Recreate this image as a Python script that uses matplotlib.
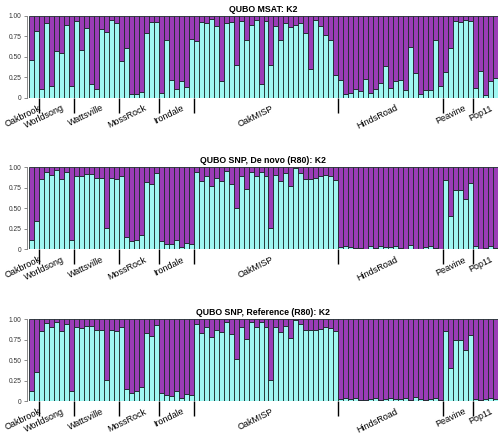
import numpy as np
from matplotlib import pyplot as plt

plt.rcParams['font.family'] = ['Liberation Sans', 'DejaVu Sans']

# populations and number of individuals
pops = ["Oakbrook", "Worldsong", "Wattsville", "MossRock", "Irondale",
        "OakMISP", "HindsRoad", "Peavine", "Pop11"]
pop_sizes = [2, 7, 9, 8, 7, 29, 21, 6, 5]

# cluster 1 membership (cyan), cluster 2 = 1 - q
msat_q = [0.46, 0.81,
          0.11, 0.91, 0.14, 0.57, 0.54, 0.89, 0.14,
          0.93, 0.58, 0.85, 0.17, 0.11, 0.84, 0.80, 0.95, 0.91,
          0.45, 0.61, 0.05, 0.05, 0.07, 0.79, 0.92, 0.92,
          0.06, 0.70, 0.21, 0.10, 0.20, 0.13, 0.72,
          0.69, 0.92, 0.91, 0.96, 0.87, 0.20, 0.91, 0.92, 0.40, 0.93,
          0.70, 0.89, 0.95, 0.17, 0.93, 0.40, 0.88, 0.70, 0.91, 0.86,
          0.89, 0.91, 0.79, 0.35, 0.95, 0.88, 0.77, 0.70, 0.28,
          0.21, 0.04, 0.06, 0.10, 0.08, 0.23, 0.06, 0.10, 0.18, 0.39,
          0.12, 0.20, 0.22, 0.09, 0.62, 0.30, 0.04, 0.09, 0.09, 0.70, 0.14,
          0.31, 0.60, 0.93, 0.92, 0.95, 0.94,
          0.12, 0.33, 0.03, 0.20, 0.24]

denovo_q = [0.12, 0.35,
            0.86, 0.95, 0.91, 0.97, 0.86, 0.94, 0.12,
            0.90, 0.89, 0.92, 0.92, 0.87, 0.87, 0.26, 0.87, 0.86,
            0.90, 0.15, 0.10, 0.12, 0.17, 0.82, 0.80, 0.93,
            0.10, 0.07, 0.06, 0.11, 0.03, 0.08, 0.06,
            0.95, 0.83, 0.90, 0.77, 0.87, 0.83, 0.96, 0.80, 0.50, 0.90,
            0.74, 0.95, 0.90, 0.94, 0.90, 0.26, 0.91, 0.84, 0.93, 0.77,
            0.99, 0.93, 0.86, 0.86, 0.87, 0.89, 0.91, 0.90, 0.85,
            0.03, 0.04, 0.03, 0.02, 0.02, 0.01, 0.04, 0.02, 0.04, 0.03,
            0.03, 0.04, 0.02, 0.01, 0.05, 0.01, 0.01, 0.03, 0.04, 0.02, 0.01,
            0.85, 0.41, 0.73, 0.73, 0.62, 0.81,
            0.04, 0.01, 0.02, 0.04, 0.02]

ref_q = [0.12, 0.35,
         0.86, 0.95, 0.91, 0.97, 0.86, 0.94, 0.12,
         0.90, 0.89, 0.92, 0.92, 0.87, 0.87, 0.26, 0.87, 0.86,
         0.91, 0.15, 0.10, 0.12, 0.17, 0.83, 0.80, 0.93,
         0.10, 0.08, 0.06, 0.12, 0.04, 0.09, 0.07,
         0.94, 0.83, 0.90, 0.78, 0.87, 0.84, 0.96, 0.82, 0.51, 0.90,
         0.76, 0.96, 0.90, 0.96, 0.90, 0.26, 0.91, 0.84, 0.92, 0.77,
         0.99, 0.94, 0.87, 0.87, 0.87, 0.88, 0.91, 0.89, 0.85,
         0.03, 0.04, 0.02, 0.04, 0.01, 0.01, 0.02, 0.04, 0.01, 0.03,
         0.04, 0.03, 0.03, 0.04, 0.01, 0.05, 0.02, 0.01, 0.03, 0.04, 0.01,
         0.85, 0.41, 0.74, 0.75, 0.62, 0.81,
         0.03, 0.01, 0.02, 0.04, 0.02]

titles = ["QUBO MSAT: K2", "QUBO SNP, De novo (R80): K2", "QUBO SNP, Reference (R80): K2"]
panels = [msat_q, denovo_q, ref_q]
ytick_labels = ["0", "0.25", "0.50", "0.75", "1.00"]

cyan = "#9ff7f2"
purple = "#9b3cb7"

fig = plt.figure(figsize=(5.0, 4.36), dpi=100)
# axes boxes in figure fraction (left, bottom, width, height)
boxes = [[0.058, 0.776, 0.938, 0.188],
         [0.058, 0.428, 0.938, 0.188],
         [0.058, 0.080, 0.938, 0.188]]

bounds = np.concatenate([[0], np.cumsum(pop_sizes)])
centers = (bounds[:-1] + bounds[1:]) / 2

for box, q, title in zip(boxes, panels, titles):
    ax = fig.add_axes(box)
    q = np.array(q)
    x = np.arange(len(q)) + 0.5
    ax.bar(x, q, width=1.0, color=cyan, edgecolor="#1c2b2b", linewidth=0.6)
    ax.bar(x, 1 - q, bottom=q, width=1.0, color=purple, edgecolor="#1c2b2b", linewidth=0.6)
    ax.set_xlim(0, len(q))
    ax.set_ylim(0, 1)
    ax.set_yticks([0, 0.25, 0.5, 0.75, 1.0])
    ax.set_yticklabels(ytick_labels)
    ax.tick_params(axis="y", length=2.5, width=0.6, color="#777777", pad=1.2,
                   labelsize=4.8, labelcolor="#333333")
    for s in ["top", "right", "bottom"]:
        ax.spines[s].set_visible(False)
    ax.spines["left"].set_color("#777777")
    ax.spines["left"].set_linewidth(0.6)
    ax.spines["left"].set_position(("outward", 1.5))
    # group separators below the plot
    ax.set_xticks(bounds[1:-1])
    ax.set_xticklabels([])
    ax.tick_params(axis="x", length=11, width=1.0, color="black", direction="out")
    for c, name in zip(centers, pops):
        ax.text(c + 1.0, -0.07, name, rotation=26, ha="right", va="top",
                rotation_mode="anchor", fontsize=6.5, transform=ax.transData)
    ax.set_title(title, fontsize=6.3, fontweight="bold", pad=3)

plt.savefig("out.png", dpi=100)
